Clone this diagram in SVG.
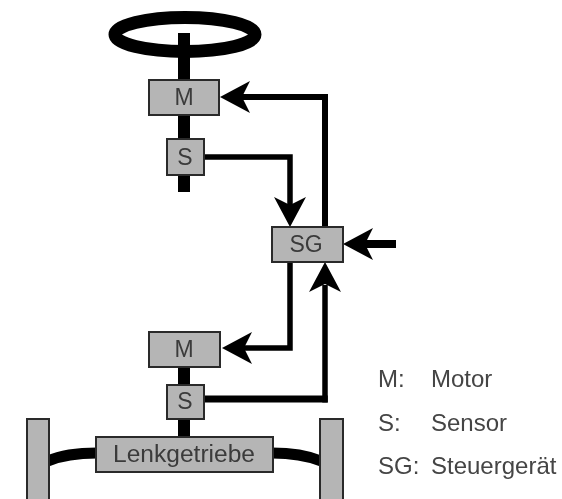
<svg xmlns="http://www.w3.org/2000/svg" width="562" height="499" viewBox="0 0 562 499">
<style>
.box{fill:#b5b5b5;stroke:#2a2a2a;stroke-width:2}
.lbl{font-family:"Liberation Sans",Arial,sans-serif;font-size:23px;fill:#3a3a3a;text-anchor:middle}
.leg{font-family:"Liberation Sans",Arial,sans-serif;font-size:24px;fill:#444}
.line{fill:none;stroke:#000;stroke-linejoin:miter}
.head{fill:#000}
</style>
<defs>
<path id="ah" d="M0 0L30 -16L22 0L30 16Z"/>
<filter id="soft" x="0" y="0" width="562" height="499" filterUnits="userSpaceOnUse"><feGaussianBlur stdDeviation="0.6"/></filter>
</defs>
<rect width="562" height="499" fill="#fff"/>
<g filter="url(#soft)">
<g id="connectors">
<path class="line" stroke-width="12" d="M184 33V192M184 367V437"/>
<path class="line" stroke-width="11" d="M48 461C62 455 78 453 97 453"/>
<path class="line" stroke-width="11" d="M272 453C290 453 306 455 321 461"/>
<path class="line" stroke-width="6" d="M325 227V97H240"/>
<path class="line" stroke-width="5.500" d="M204 157H290V207"/>
<path class="line" stroke-width="5.500" d="M290 262V348H240"/>
<path class="line" stroke-width="7" d="M204 399H327.750"/>
<path class="line" stroke-width="5.500" d="M325 402.500V285"/>
<path class="line" stroke-width="8" d="M365 244H396"/>
<use href="#ah" class="head" transform="translate(220 97)"/>
<use href="#ah" class="head" transform="translate(290 227) rotate(-90)"/>
<use href="#ah" class="head" transform="translate(343 244)"/>
<use href="#ah" class="head" transform="translate(222 348)"/>
<use href="#ah" class="head" transform="translate(325 262) rotate(90)"/>
</g>
<g id="wheel"><ellipse cx="185" cy="34.500" rx="70" ry="17" fill="none" stroke="#000" stroke-width="13"/></g>
<path class="line" stroke-width="12" d="M184 33V79"/>
<g id="motor-top"><rect class="box" x="149" y="80" width="70" height="35"/><text class="lbl" x="184" y="105">M</text></g>
<g id="sensor-top"><rect class="box" x="167" y="139" width="37" height="36"/><text class="lbl" x="185" y="165">S</text></g>
<g id="sg"><rect class="box" x="272" y="227" width="71" height="35"/><text class="lbl" x="306" y="252">SG</text></g>
<g id="motor-bottom"><rect class="box" x="149" y="332" width="71" height="35"/><text class="lbl" x="184" y="357">M</text></g>
<g id="sensor-bottom"><rect class="box" x="167" y="385" width="37" height="34"/><text class="lbl" x="185" y="409">S</text></g>
<g id="lenkgetriebe"><rect class="box" x="96" y="437" width="177" height="35"/><text class="lbl" x="184" y="462" textLength="142" lengthAdjust="spacingAndGlyphs">Lenkgetriebe</text></g>
<g id="wheel-left"><rect class="box" x="27" y="419" width="22" height="82" stroke-width="1.500"/></g>
<g id="wheel-right"><rect class="box" x="320" y="419" width="23" height="82" stroke-width="1.500"/></g>
<g id="legend">
<text class="leg" x="378" y="387">M:</text><text class="leg" x="431" y="387">Motor</text>
<text class="leg" x="378" y="431">S:</text><text class="leg" x="431" y="431">Sensor</text>
<text class="leg" x="378" y="474">SG:</text><text class="leg" x="431" y="474">Steuergerät</text>
</g>
</g>
</svg>
